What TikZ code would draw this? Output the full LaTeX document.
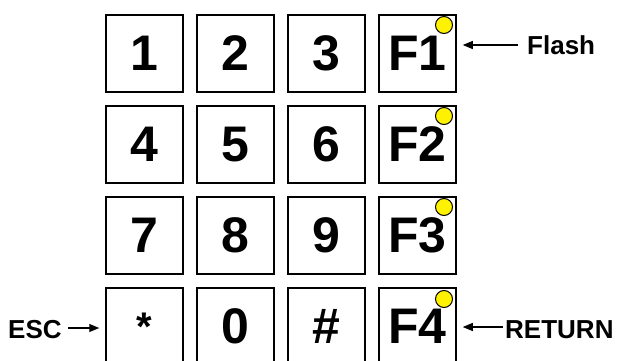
\documentclass[tikz,border=0pt]{standalone}
\usepackage{fontspec}
\setmainfont{Liberation Sans}
\usetikzlibrary{arrows.meta,calc}
\begin{document}
\begin{tikzpicture}[x=1pt,y=-1pt,
  key/.style={draw=black,line width=1.5pt,minimum width=77pt,minimum height=77pt,inner sep=0pt,font=\bfseries\fontsize{50}{50}\selectfont},
  led/.style={circle,draw=black,line width=1pt,fill=yellow,minimum size=17pt,inner sep=0pt},
  lbl/.style={font=\bfseries\fontsize{26}{26}\selectfont,inner sep=0pt},
  arr/.style={line width=1.1pt,-{Triangle[length=10pt,width=8pt]}}]
\useasboundingbox (0,0) rectangle (618,361);
\foreach \t/\n [count=\i from 0] in {1/k1,2/k2,3/k3,F1/f1}{
  \node[key] (\n) at (144.5+91*\i,53.5) {\t};}
\foreach \t/\n [count=\i from 0] in {4/k4,5/k5,6/k6,F2/f2}{
  \node[key] (\n) at (144.5+91*\i,144.5) {\t};}
\foreach \t/\n [count=\i from 0] in {7/k7,8/k8,9/k9,F3/f3}{
  \node[key] (\n) at (144.5+91*\i,235.5) {\t};}
\node[key,font=\bfseries\fontsize{40}{40}\selectfont] (ks) at (144.5,326.5) {*};
\foreach \t/\n [count=\i from 1] in {0/k0,\#/kh,F4/f4}{
  \node[key] (\n) at (144.5+91*\i,326.5) {\t};}
\node[led] (l1) at (444,25) {};
\node[led] (l2) at (444,116) {};
\node[led] (l3) at (444,207) {};
\node[led] (l4) at (444,299) {};
\node[lbl,anchor=west] (flash) at (527,45) {Flash};
\node[lbl,anchor=west] (ret) at (505,330) {RETURN};
\node[lbl,anchor=west] (esc) at (8,330) {ESC};
\draw[arr,shorten <=9pt,shorten >=6pt] (flash.west) -- (flash.west -| f1.east);
\draw[arr,shorten <=2pt,shorten >=6pt] ($(ret.west)+(0,-3)$) -- ($(ret.west -| f4.east)+(0,-3)$);
\draw[arr,shorten <=6pt,shorten >=6pt] ($(esc.east)+(0,-2)$) -- ($(esc.east -| ks.west)+(0,-2)$);
\end{tikzpicture}
\end{document}
